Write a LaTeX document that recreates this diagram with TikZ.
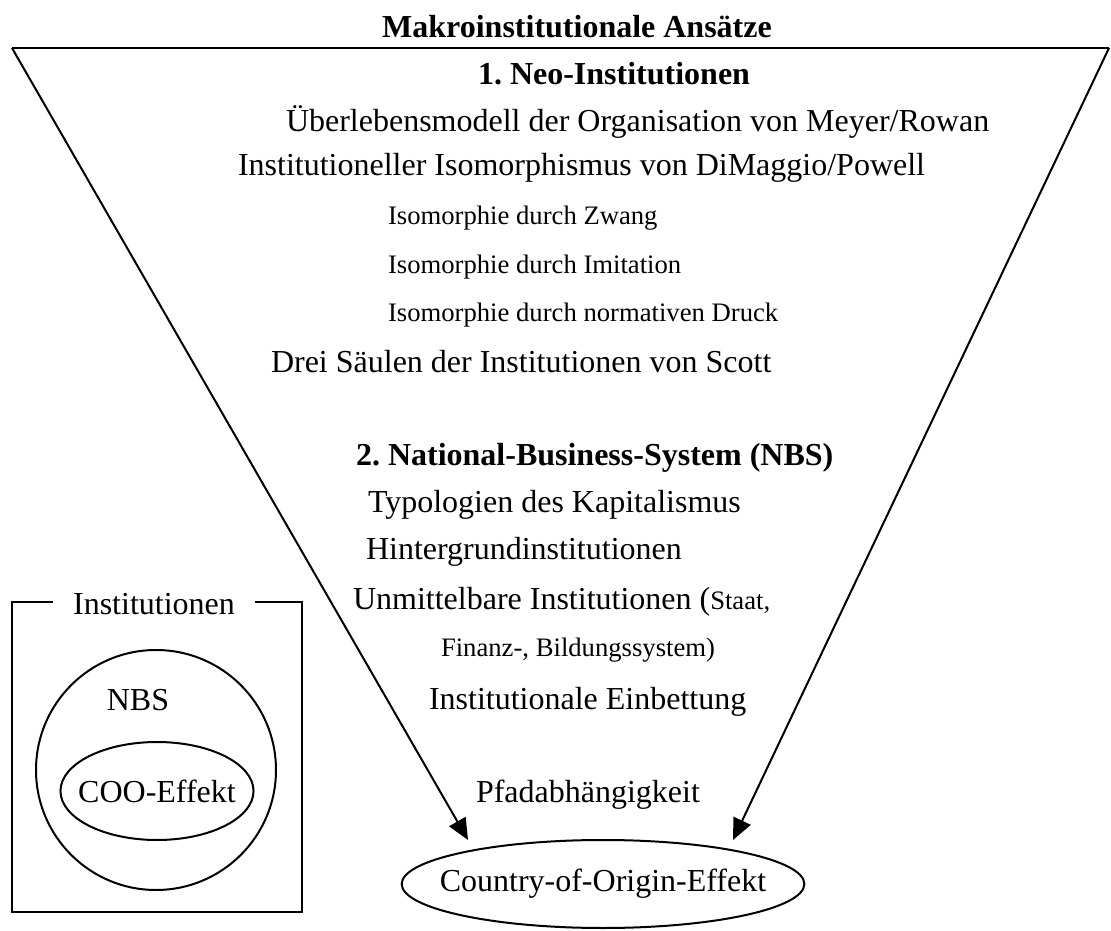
\documentclass[tikz,border=0pt]{standalone}
\usepackage{fontspec}
\setmainfont{Liberation Serif}
\usetikzlibrary{arrows.meta,shapes.geometric}
\frenchspacing

\begin{document}
\begin{tikzpicture}[
x=0.375pt,y=-0.375pt,
line width=0.75pt,
every label/.style={inner sep=0pt,font=\fontsize{12}{14}\selectfont},
txt/.style={inner sep=0pt,anchor=west,font=\fontsize{12}{14}\selectfont},
small/.style={inner sep=0pt,anchor=west,font=\fontsize{10}{12}\selectfont},
head/.style={inner sep=0pt,anchor=west,font=\fontsize{12}{14}\selectfont\bfseries},
oval/.style={ellipse,draw,inner sep=0pt},
arrow/.style={-{Triangle[length=8pt,width=7pt]}}
]
\useasboundingbox (0,0) rectangle (1111,931);

% =======================
% FUNNEL
% =======================

\node[inner sep=0pt,font=\fontsize{12}{14}\selectfont\bfseries] (title) at (577,27)
{Makroinstitutionale Ansätze};

\coordinate (tl) at (12,48);
\coordinate (tr) at (1109,48);
\coordinate (tipL) at (468,840);
\coordinate (tipR) at (733,840);

\draw (tl) -- (tr);

% =======================
% NEO-INSTITUTIONEN
% =======================

\node[head] (neo) at (477,74) {1. Neo-Institutionen};
\node[txt] (ueber) at (285,122) {Überlebensmodell der Organisation von Meyer/Rowan};
\node[txt] (iso) at (237,168) {Institutioneller Isomorphismus von DiMaggio/Powell};
\node[small] (zwang) at (387,218) {Isomorphie durch Zwang};
\node[small] (imit) at (387,267) {Isomorphie durch Imitation};
\node[small] (norm) at (387,315) {Isomorphie durch normativen Druck};
\node[txt] (scott) at (270,362) {Drei Säulen der Institutionen von Scott};

% =======================
% NBS
% =======================

\node[head] (nbshead) at (355,458) {2. National-Business-System (NBS)};
\node[txt] (typ) at (367,505) {Typologien des Kapitalismus};
\node[txt] (hint) at (365,552) {Hintergrundinstitutionen};
\node[txt] (unmit) at (352,602) {Unmittelbare Institutionen ({\fontsize{10}{12}\selectfont Staat,}};
\node[small] (finanz) at (440,650) {Finanz-, Bildungssystem)};
\node[txt] (einb) at (428,702) {Institutionale Einbettung};
\node[txt] (pfad) at (475,795) {Pfadabhängigkeit};

% =======================
% OUTPUT
% =======================

\node[oval,minimum width=151pt,minimum height=33pt,
label={center:Country-of-Origin-Effekt}] (coo) at (603,884) {};

% =======================
% LEFT BOX
% =======================

\node[draw,minimum width=108.75pt,minimum height=116.25pt] (inst) at (157,757) {};
\node[fill=white,inner xsep=7.5pt,inner ysep=1pt,font=\fontsize{12}{14}\selectfont] (insttitle) at (154,604) {Institutionen};
\node[circle,draw,minimum size=90pt] (nbsring) at (156,770) {};
\node[inner sep=0pt,font=\fontsize{12}{14}\selectfont] (nbslabel) at (138,700) {NBS};
\node[oval,minimum width=72.4pt,minimum height=36.75pt,
label={center:COO-Effekt}] (cooin) at (157,791) {};

% =======================
% ARROWS
% =======================

\draw[arrow] (tl) -- (tipL);
\draw[arrow] (tr) -- (tipR);

\end{tikzpicture}
\end{document}
